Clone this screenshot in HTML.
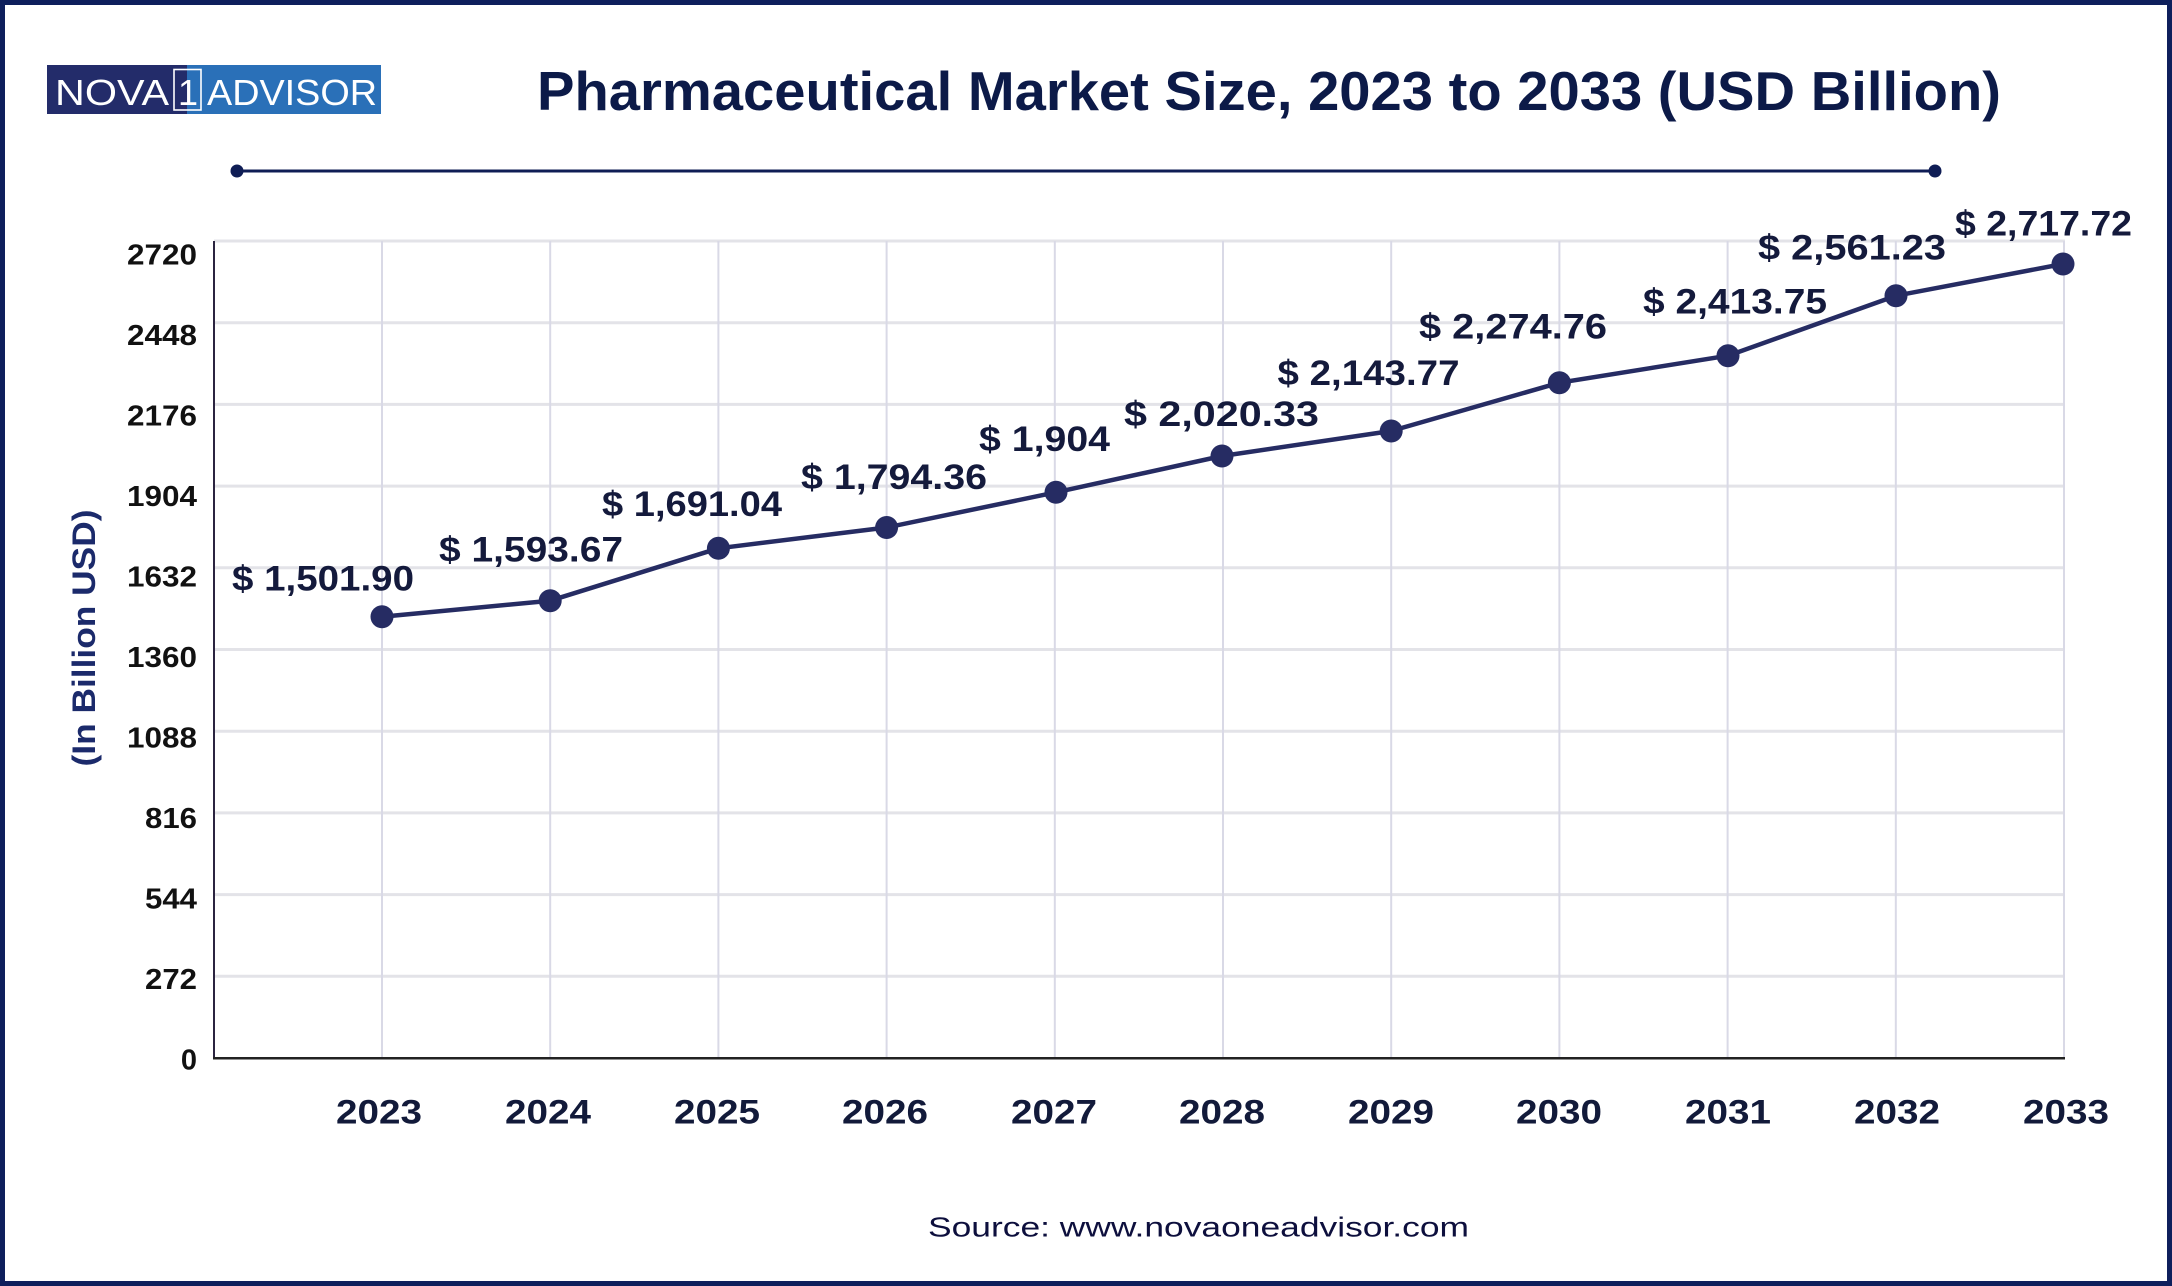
<!DOCTYPE html>
<html>
<head>
<meta charset="utf-8">
<style>
  html, body { margin:0; padding:0; background:#ffffff; }
  body { width:2172px; height:1286px; overflow:hidden; }
  svg { display:block; }
  text { font-family: "Liberation Sans", Arial, sans-serif; }
</style>
</head>
<body>
<svg width="2172" height="1286" viewBox="0 0 2172 1286" xmlns="http://www.w3.org/2000/svg">
  <rect x="0" y="0" width="2172" height="1286" fill="#ffffff"/>
  <!-- outer border -->
  <rect x="2.5" y="2.5" width="2167" height="1281" fill="none" stroke="#0e1f5c" stroke-width="5"/>

  <!-- logo -->
  <rect x="47" y="65" width="140" height="49" fill="#232c6a"/>
  <rect x="187" y="65" width="194" height="49" fill="#2a70b8"/>
  <text x="55" y="105" font-size="36" fill="#ffffff" textLength="114" lengthAdjust="spacingAndGlyphs" font-weight="300">NOVA</text>
  <rect x="174" y="69.5" width="27" height="40.5" fill="none" stroke="#ffffff" stroke-width="1.6"/>
  <text x="188" y="105" font-size="36" fill="#ffffff" text-anchor="middle">1</text>
  <text x="207" y="105" font-size="36" fill="#ffffff" textLength="170" lengthAdjust="spacingAndGlyphs" font-weight="300">ADVISOR</text>

  <!-- title -->
  <text x="537" y="110" font-size="55" font-weight="bold" fill="#0c1a48" textLength="1464" lengthAdjust="spacingAndGlyphs">Pharmaceutical Market Size, 2023 to 2033 (USD Billion)</text>

  <!-- decorative line -->
  <line x1="237" y1="171" x2="1935" y2="171" stroke="#0f1d55" stroke-width="3"/>
  <circle cx="237" cy="171" r="6.5" fill="#0f1d55"/>
  <circle cx="1935" cy="171" r="6.5" fill="#0f1d55"/>

  <!-- horizontal gridlines -->
  <g stroke="#e3e3e8" stroke-width="3">
    <line x1="214" y1="241" x2="2065" y2="241"/>
    <line x1="214" y1="322.7" x2="2065" y2="322.7"/>
    <line x1="214" y1="404.4" x2="2065" y2="404.4"/>
    <line x1="214" y1="486.1" x2="2065" y2="486.1"/>
    <line x1="214" y1="567.8" x2="2065" y2="567.8"/>
    <line x1="214" y1="649.5" x2="2065" y2="649.5"/>
    <line x1="214" y1="731.2" x2="2065" y2="731.2"/>
    <line x1="214" y1="812.9" x2="2065" y2="812.9"/>
    <line x1="214" y1="894.6" x2="2065" y2="894.6"/>
    <line x1="214" y1="976.3" x2="2065" y2="976.3"/>
  </g>
  <!-- vertical gridlines -->
  <g stroke="#d9d9e6" stroke-width="2">
    <line x1="382" y1="241" x2="382" y2="1058"/>
    <line x1="550.2" y1="241" x2="550.2" y2="1058"/>
    <line x1="718.4" y1="241" x2="718.4" y2="1058"/>
    <line x1="886.6" y1="241" x2="886.6" y2="1058"/>
    <line x1="1054.8" y1="241" x2="1054.8" y2="1058"/>
    <line x1="1223" y1="241" x2="1223" y2="1058"/>
    <line x1="1391.2" y1="241" x2="1391.2" y2="1058"/>
    <line x1="1559.4" y1="241" x2="1559.4" y2="1058"/>
    <line x1="1727.6" y1="241" x2="1727.6" y2="1058"/>
    <line x1="1895.8" y1="241" x2="1895.8" y2="1058"/>
    <line x1="2064" y1="241" x2="2064" y2="1058"/>
  </g>
  <!-- axes -->
  <line x1="214" y1="241" x2="214" y2="1059" stroke="#2b2440" stroke-width="2"/>
  <line x1="213" y1="1058.3" x2="2065" y2="1058.3" stroke="#222222" stroke-width="2.5"/>

  <!-- y tick labels -->
  <g font-size="29" font-weight="bold" fill="#111111" text-anchor="end">
    <text x="197" y="264.4" textLength="70" lengthAdjust="spacingAndGlyphs">2720</text>
    <text x="197" y="344.9" textLength="70" lengthAdjust="spacingAndGlyphs">2448</text>
    <text x="197" y="425.4" textLength="70" lengthAdjust="spacingAndGlyphs">2176</text>
    <text x="197" y="505.9" textLength="70" lengthAdjust="spacingAndGlyphs">1904</text>
    <text x="197" y="586.4" textLength="70" lengthAdjust="spacingAndGlyphs">1632</text>
    <text x="197" y="666.9" textLength="70" lengthAdjust="spacingAndGlyphs">1360</text>
    <text x="197" y="747.4" textLength="70" lengthAdjust="spacingAndGlyphs">1088</text>
    <text x="197" y="827.9" textLength="52" lengthAdjust="spacingAndGlyphs">816</text>
    <text x="197" y="908.4" textLength="52" lengthAdjust="spacingAndGlyphs">544</text>
    <text x="197" y="988.9" textLength="52" lengthAdjust="spacingAndGlyphs">272</text>
    <text x="197" y="1069.4">0</text>
  </g>

  <!-- y axis title -->
  <text transform="translate(95,638) rotate(-90)" x="0" y="0" font-size="32" font-weight="bold" fill="#1b2a6b" text-anchor="middle" textLength="257" lengthAdjust="spacingAndGlyphs">(In Billion USD)</text>

  <!-- x labels -->
  <g font-size="34" font-weight="bold" fill="#121a3a" text-anchor="middle">
    <text x="379" y="1123.3" textLength="86" lengthAdjust="spacingAndGlyphs">2023</text>
    <text x="548" y="1123.3" textLength="86" lengthAdjust="spacingAndGlyphs">2024</text>
    <text x="717" y="1123.3" textLength="86" lengthAdjust="spacingAndGlyphs">2025</text>
    <text x="885" y="1123.3" textLength="86" lengthAdjust="spacingAndGlyphs">2026</text>
    <text x="1054" y="1123.3" textLength="86" lengthAdjust="spacingAndGlyphs">2027</text>
    <text x="1222" y="1123.3" textLength="86" lengthAdjust="spacingAndGlyphs">2028</text>
    <text x="1391" y="1123.3" textLength="86" lengthAdjust="spacingAndGlyphs">2029</text>
    <text x="1559" y="1123.3" textLength="86" lengthAdjust="spacingAndGlyphs">2030</text>
    <text x="1728" y="1123.3" textLength="86" lengthAdjust="spacingAndGlyphs">2031</text>
    <text x="1897" y="1123.3" textLength="86" lengthAdjust="spacingAndGlyphs">2032</text>
    <text x="2066" y="1123.3" textLength="86" lengthAdjust="spacingAndGlyphs">2033</text>
  </g>

  <!-- series line -->
  <polyline fill="none" stroke="#262c63" stroke-width="4.5" stroke-linejoin="round"
    points="382,616.7 550.2,600.7 718.4,548.3 886.6,527.5 1056,492.3 1222,456 1391.2,431 1559.4,382.7 1728,355.7 1896,295.7 2063,264"/>
  <g fill="#262c63">
    <circle cx="382" cy="616.7" r="11.5"/>
    <circle cx="550.2" cy="600.7" r="11.5"/>
    <circle cx="718.4" cy="548.3" r="11.5"/>
    <circle cx="886.6" cy="527.5" r="11.5"/>
    <circle cx="1056" cy="492.3" r="11.5"/>
    <circle cx="1222" cy="456" r="11.5"/>
    <circle cx="1391.2" cy="431" r="11.5"/>
    <circle cx="1559.4" cy="382.7" r="11.5"/>
    <circle cx="1728" cy="355.7" r="11.5"/>
    <circle cx="1896" cy="295.7" r="11.5"/>
    <circle cx="2063" cy="264" r="11.5"/>
  </g>

  <!-- data labels -->
  <g font-size="35" font-weight="bold" fill="#141a3c">
    <text x="232" y="590.7" textLength="182" lengthAdjust="spacingAndGlyphs">$ 1,501.90</text>
    <text x="439" y="561.7" textLength="184" lengthAdjust="spacingAndGlyphs">$ 1,593.67</text>
    <text x="602" y="516" textLength="180" lengthAdjust="spacingAndGlyphs">$ 1,691.04</text>
    <text x="801" y="489" textLength="186" lengthAdjust="spacingAndGlyphs">$ 1,794.36</text>
    <text x="979" y="451" textLength="131" lengthAdjust="spacingAndGlyphs">$ 1,904</text>
    <text x="1124" y="426" textLength="195" lengthAdjust="spacingAndGlyphs">$ 2,020.33</text>
    <text x="1277.5" y="385" textLength="182" lengthAdjust="spacingAndGlyphs">$ 2,143.77</text>
    <text x="1419" y="338.3" textLength="188" lengthAdjust="spacingAndGlyphs">$ 2,274.76</text>
    <text x="1643" y="313.3" textLength="184" lengthAdjust="spacingAndGlyphs">$ 2,413.75</text>
    <text x="1758" y="259.3" textLength="188" lengthAdjust="spacingAndGlyphs">$ 2,561.23</text>
    <text x="1955" y="235.7" textLength="177" lengthAdjust="spacingAndGlyphs">$ 2,717.72</text>
  </g>

  <!-- source -->
  <text x="928" y="1236.7" font-size="28" fill="#0d0f3d" textLength="541" lengthAdjust="spacingAndGlyphs">Source: www.novaoneadvisor.com</text>
</svg>
</body>
</html>
